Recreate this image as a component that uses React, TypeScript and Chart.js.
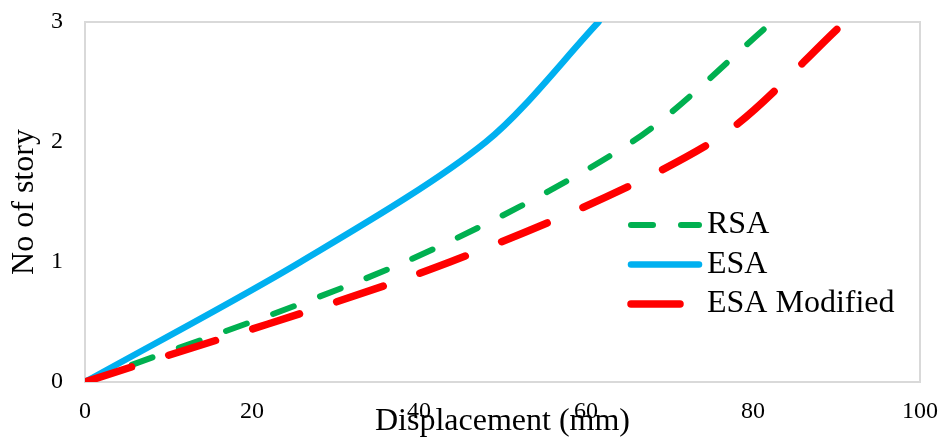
import React, { useEffect, useRef } from 'react';
import { Chart, registerables } from 'chart.js';

Chart.register(...registerables);

// ---- Data ----
const stories = [0, 1, 2, 3];
const rsaDisp = [0, 38.3, 65.5, 82.3];
const esaDisp = [0, 25.8, 48, 61.5];
const esaModDisp = [0, 43.7, 75.1, 91];
const xTickValues = [0, 20, 40, 60, 80, 100];
const yTickValues = [0, 1, 2, 3];
const seriesNames = ['RSA', 'ESA', 'ESA Modified'];
const seriesColors = ['#00b050', '#00b0f0', '#ff0000'];
const xTitle = 'Displacement (mm)';
const yTitle = 'No of story';

const FONT = "'Liberation Serif', 'Times New Roman', serif";

const toPoints = (xs: number[]) => xs.map((x, i) => ({ x, y: stories[i] }));

const borderPlugin = {
  id: 'plotBorder',
  beforeDatasetsDraw(chart: any) {
    const { ctx, chartArea } = chart;
    ctx.save();
    ctx.strokeStyle = '#d9d9d9';
    ctx.lineWidth = 2;
    ctx.strokeRect(chartArea.left, chartArea.top, chartArea.right - chartArea.left, chartArea.bottom - chartArea.top);
    ctx.restore();
  },
};

const legendPlugin = {
  id: 'insideLegend',
  afterDraw(chart: any) {
    const { ctx } = chart;
    const rows = [225, 264.5, 304];
    ctx.save();
    chart.data.datasets.forEach((ds: any, i: number) => {
      const y = rows[i];
      ctx.beginPath();
      ctx.strokeStyle = ds.borderColor;
      ctx.lineWidth = ds.borderWidth;
      ctx.lineCap = 'round';
      ctx.setLineDash(ds.borderDash || []);
      ctx.moveTo(631, y);
      ctx.lineTo(699, y);
      ctx.stroke();
      ctx.setLineDash([]);
      ctx.fillStyle = '#000';
      ctx.font = `32px ${FONT}`;
      ctx.textBaseline = 'middle';
      ctx.textAlign = 'left';
      ctx.fillText(ds.label, 707, y);
    });
    ctx.restore();
  },
};

export default function App() {
  const ref = useRef<HTMLCanvasElement>(null);

  useEffect(() => {
    if (!ref.current) return;
    const chart = new Chart(ref.current, {
      type: 'scatter',
      data: {
        datasets: [
          {
            label: seriesNames[0],
            data: toPoints(rsaDisp),
            showLine: true,
            borderColor: seriesColors[0],
            backgroundColor: seriesColors[0],
            borderWidth: 6,
            borderDash: [22, 28],
            borderCapStyle: 'round',
            tension: 0.3,
            pointRadius: 0,
            order: 2,
          },
          {
            label: seriesNames[1],
            data: toPoints(esaDisp),
            showLine: true,
            borderColor: seriesColors[1],
            backgroundColor: seriesColors[1],
            borderWidth: 6.5,
            borderCapStyle: 'round',
            tension: 0.3,
            pointRadius: 0,
            order: 1,
          },
          {
            label: seriesNames[2],
            data: toPoints(esaModDisp),
            showLine: true,
            borderColor: seriesColors[2],
            backgroundColor: seriesColors[2],
            borderWidth: 7.5,
            borderDash: [49, 39],
            borderCapStyle: 'round',
            tension: 0.3,
            pointRadius: 0,
            order: 0,
          },
        ],
      },
      options: {
        animation: false,
        responsive: false,
        events: [],
        layout: { autoPadding: false, padding: { left: 0, right: 24, top: 22, bottom: 0 } },
        plugins: {
          legend: { display: false },
          tooltip: { enabled: false },
        },
        scales: {
          x: {
            type: 'linear',
            min: 0,
            max: 100,
            afterFit(scale: any) {
              scale.height = 59;
              scale.paddingLeft = 0;
              scale.paddingRight = 0;
            },
            afterBuildTicks(scale: any) {
              scale.ticks = xTickValues.map((v) => ({ value: v }));
            },
            grid: { display: false, drawTicks: false },
            border: { display: false },
            ticks: {
              color: '#000',
              padding: 15,
              font: { family: FONT, size: 24 },
              maxRotation: 0,
            },
            title: {
              display: true,
              text: xTitle,
              color: '#000',
              font: { family: FONT, size: 32 },
              padding: { top: 0, bottom: 0 },
            },
          },
          y: {
            type: 'linear',
            min: 0,
            max: 3,
            afterFit(scale: any) {
              scale.width = 85;
              scale.paddingTop = 0;
              scale.paddingBottom = 0;
            },
            afterBuildTicks(scale: any) {
              scale.ticks = yTickValues.map((v) => ({ value: v }));
            },
            grid: { display: false, drawTicks: false },
            border: { display: false },
            ticks: {
              color: '#000',
              padding: 22,
              font: { family: FONT, size: 24 },
            },
            title: {
              display: true,
              text: yTitle,
              color: '#000',
              font: { family: FONT, size: 32 },
              padding: { top: 5, bottom: 0 },
            },
          },
        },
      },
      plugins: [borderPlugin, legendPlugin],
    } as any);
    return () => chart.destroy();
  }, []);

  return (
    <div style={{ position: 'absolute', left: 0, top: 0, width: 944, height: 441, background: '#fff' }}>
      <canvas ref={ref} width={944} height={441} style={{ display: 'block', width: 944, height: 441 }} />
    </div>
  );
}
